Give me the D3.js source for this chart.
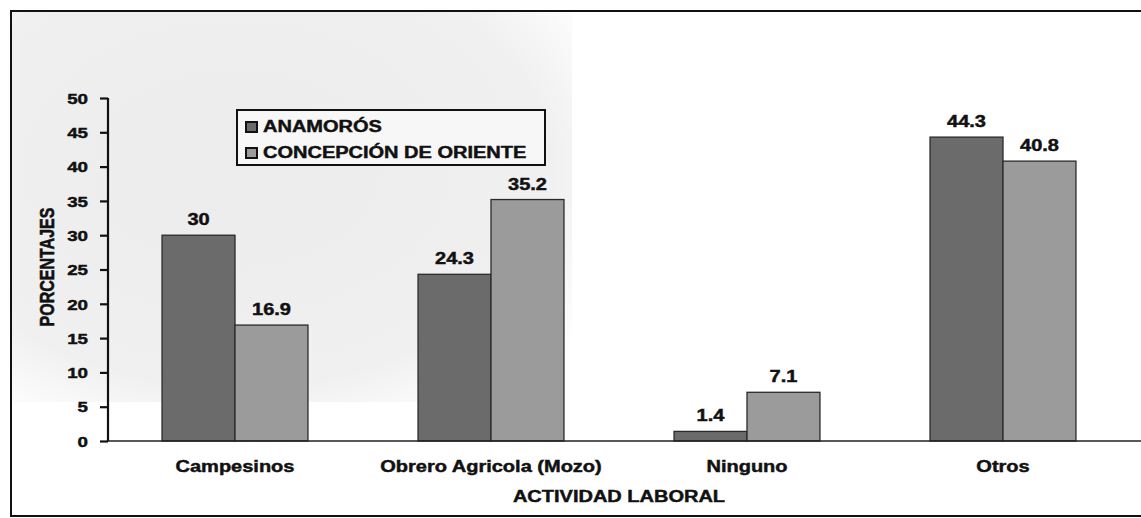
<!DOCTYPE html>
<html>
<head>
<meta charset="utf-8">
<script src="https://cdnjs.cloudflare.com/ajax/libs/d3/7.8.5/d3.min.js"></script>
<style>
  html, body { margin: 0; padding: 0; background: #ffffff; }
  svg { display: block; }
  text { font-family: "Liberation Sans", Arial, sans-serif; font-weight: bold; fill: #111; stroke: #111; stroke-width: 0.45px; }
</style>
</head>
<body>
<svg id="chart" width="1141" height="518"></svg>
<script>
// ---- data ----
const categories = ["Campesinos", "Obrero Agricola (Mozo)", "Ninguno", "Otros"];
const seriesNames = ["ANAMORÓS", "CONCEPCIÓN DE ORIENTE"];
const anamoros = [30, 24.3, 1.4, 44.3];
const concepcion = [16.9, 35.2, 7.1, 40.8];
const yTicks = [0, 5, 10, 15, 20, 25, 30, 35, 40, 45, 50];
const yTitle = "PORCENTAJES";
const xTitle = "ACTIVIDAD LABORAL";

// ---- setup ----
const SX = 1.25; // horizontal stretch of the scanned original
const svg = d3.select("#chart");
const seriesValues = [anamoros, concepcion];
const color = d3.scaleOrdinal().domain(seriesNames).range(["#6b6b6b", "#9b9b9b"]);

const x0 = d3.scaleBand().domain(categories).range([107, 1131]).paddingInner(0.43).paddingOuter(0.215);
const x1 = d3.scaleBand().domain(seriesNames).range([0, x0.bandwidth()]);
const y = d3.scaleLinear().domain([0, 50]).range([441, 98]);

function stretch(sel, x, y, rot) {
  sel.attr("transform", `translate(${x},${y}) scale(${SX},1)` + (rot ? ` rotate(${rot})` : ""));
}

// scan tint (soft)
const defs = svg.append("defs");
const grad = defs.append("radialGradient").attr("id", "tint").attr("cx", "0.4").attr("cy", "0.4").attr("r", "0.75");
grad.append("stop").attr("offset", "0").attr("stop-color", "#ececec");
grad.append("stop").attr("offset", "0.75").attr("stop-color", "#f0f0f0");
grad.append("stop").attr("offset", "1").attr("stop-color", "#ffffff");
svg.append("rect").attr("x", 12).attr("y", 12).attr("width", 560).attr("height", 390)
  .attr("fill", "url(#tint)");

// outer frame
svg.append("rect").attr("x", 11).attr("y", 11).attr("width", 1145).attr("height", 505)
  .attr("fill", "none").attr("stroke", "#111").attr("stroke-width", 2);

// bars
const rows = categories.map((c, i) => ({ cat: c, vals: seriesNames.map((s, j) => ({ s, v: seriesValues[j][i] })) }));
const g = svg.append("g");
const groups = g.selectAll("g.grp").data(rows).join("g")
  .attr("class", "grp")
  .attr("transform", d => `translate(${x0(d.cat)},0)`);
groups.selectAll("rect").data(d => d.vals).join("rect")
  .attr("x", d => x1(d.s))
  .attr("y", d => y(d.v))
  .attr("width", x1.bandwidth())
  .attr("height", d => y(0) - y(d.v))
  .attr("fill", d => color(d.s))
  .attr("stroke", "#2a2a2a")
  .attr("stroke-width", 1.3);
groups.selectAll("text.val").data(d => d.vals).join("text")
  .attr("class", "val")
  .attr("text-anchor", "middle")
  .style("font-size", "16px")
  .text(d => d.v)
  .each(function(d) { stretch(d3.select(this), x1(d.s) + x1.bandwidth() / 2, y(d.v) - 10); });

// x axis line
svg.append("line").attr("x1", 108).attr("x2", 1141).attr("y1", y(0)).attr("y2", y(0))
  .attr("stroke", "#222").attr("stroke-width", 1.5);

// category labels
svg.append("g").selectAll("text").data(categories).join("text")
  .attr("text-anchor", "middle")
  .style("font-size", "16px")
  .text(d => d)
  .each(function(d) { stretch(d3.select(this), x0(d) + x0.bandwidth() / 2, 472); });

// y axis
const yAxis = svg.append("g").attr("transform", "translate(108,0)")
  .call(d3.axisLeft(y).tickValues(yTicks).tickSize(8).tickPadding(12));
yAxis.select(".domain").attr("stroke", "#111").attr("stroke-width", 2.2).attr("d", `M0,${y(50)}V${y(0)}`);
yAxis.selectAll(".tick line").attr("stroke", "#111").attr("stroke-width", 2.2);
yAxis.selectAll(".tick text")
  .attr("x", null).attr("dy", "0.35em")
  .style("font-size", "15px").style("font-family", "Liberation Sans, Arial, sans-serif")
  .style("font-weight", "bold").attr("fill", "#111").attr("stroke", "#111").attr("stroke-width", 0.45)
  .attr("transform", `translate(-20,0) scale(${SX},1)`);

// axis titles
svg.append("text").attr("text-anchor", "middle").style("font-size", "16px").text(yTitle)
  .call(s => stretch(s, 54, 267, -90));
svg.append("text").attr("text-anchor", "middle").style("font-size", "16px").text(xTitle)
  .call(s => stretch(s, 619, 502));

// legend
const lg = svg.append("g");
lg.append("rect").attr("x", 237).attr("y", 110).attr("width", 308).attr("height", 55)
  .attr("fill", "#f7f7f7").attr("stroke", "#111").attr("stroke-width", 2);
const items = lg.selectAll("g.item").data(seriesNames).join("g").attr("class", "item");
items.append("rect")
  .attr("x", 246).attr("y", (d, i) => 122 + i * 26)
  .attr("width", 11).attr("height", 10)
  .attr("fill", d => color(d)).attr("stroke", "#111").attr("stroke-width", 2);
items.append("text").style("font-size", "16px").text(d => d)
  .each(function(d, i) { stretch(d3.select(this), 263, 132 + i * 26); });
</script>
</body>
</html>
